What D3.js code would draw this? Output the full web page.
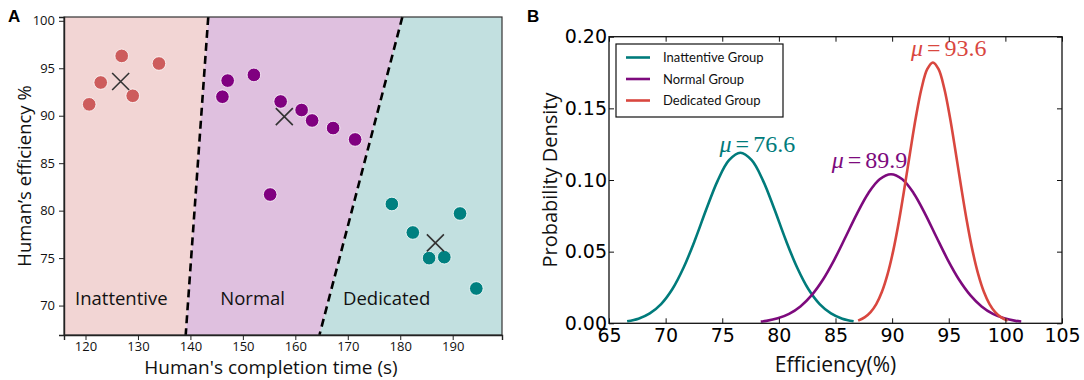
<!DOCTYPE html>
<html>
<head>
<meta charset="utf-8">
<script src="https://cdn.jsdelivr.net/npm/d3@7"></script>
<style>
  body { margin: 0; background: #fff; }
  svg { display: block; }
</style>
</head>
<body>
<svg width="1084" height="380"></svg>
<script>
// ---- panel A data: completion time (s) vs efficiency (%)
const inattentiveTime = [120.7, 122.9, 126.9, 129.0, 134.0]
const inattentiveEff = [91.2, 93.5, 96.3, 92.1, 95.5]
const normalTime = [146.1, 147.1, 152.1, 155.2, 157.2, 161.2, 163.2, 167.2, 171.4]
const normalEff = [92.0, 93.7, 94.3, 81.7, 91.5, 90.6, 89.5, 88.7, 87.5]
const dedicatedTime = [178.4, 182.4, 185.5, 188.4, 191.4, 194.5]
const dedicatedEff = [80.7, 77.7, 75.0, 75.1, 79.7, 71.8]
// cluster centres (the X marks)
const centerTime = [126.7, 157.9, 186.7]
const centerEff = [93.6, 89.9, 76.6]
// dashed boundaries, two points each [time, eff]
const boundary1 = [[143.4, 100.4], [139.1, 66.9]]
const boundary2 = [[180.4, 100.4], [164.6, 66.9]]
const regionNames = ['Inattentive', 'Normal', 'Dedicated']
const xTicksA = [120, 130, 140, 150, 160, 170, 180, 190]
const yTicksA = [70, 75, 80, 85, 90, 95, 100]

// ---- panel B data: probability density curves
const inattentiveX = [66.6, 67.6, 68.6, 69.6, 70.6, 71.6, 72.6, 73.6, 74.6, 75.6, 76.6, 77.6, 78.6, 79.6, 80.6, 81.6, 82.6, 83.6, 84.6, 85.6, 86.6]
const inattentiveY = [0.0014, 0.0032, 0.0069, 0.0134, 0.0239, 0.0391, 0.0583, 0.0797, 0.0996, 0.1138, 0.119, 0.1138, 0.0996, 0.0797, 0.0583, 0.0391, 0.0239, 0.0134, 0.0069, 0.0032, 0.0014]
const normalX = [78.4, 78.9, 79.9, 80.9, 81.9, 82.9, 83.9, 84.9, 85.9, 86.9, 87.9, 88.9, 89.9, 90.9, 91.9, 92.9, 93.9, 94.9, 95.9, 96.9, 97.9, 98.9, 99.9, 100.9, 101.4]
const normalY = [0.0012, 0.0017, 0.0035, 0.0066, 0.0118, 0.0197, 0.0306, 0.0445, 0.0604, 0.0766, 0.0908, 0.1005, 0.104, 0.1005, 0.0908, 0.0766, 0.0604, 0.0445, 0.0306, 0.0197, 0.0118, 0.0066, 0.0035, 0.0017, 0.0012]
const dedicatedX = [87.0, 87.6, 88.1, 88.6, 89.1, 89.6, 90.1, 90.6, 91.1, 91.6, 92.1, 92.6, 93.1, 93.6, 94.1, 94.6, 95.1, 95.6, 96.1, 96.6, 97.1, 97.6, 98.1, 98.6, 99.1, 99.6, 100.2]
const dedicatedY = [0.0019, 0.0043, 0.0078, 0.0134, 0.0220, 0.0343, 0.0507, 0.0712, 0.0949, 0.1199, 0.1439, 0.1640, 0.1773, 0.182, 0.1773, 0.1640, 0.1439, 0.1199, 0.0949, 0.0712, 0.0507, 0.0343, 0.0220, 0.0134, 0.0078, 0.0043, 0.0019]
const groupNames = ['Inattentive Group', 'Normal Group', 'Dedicated Group']
const groupMeans = [76.6, 89.9, 93.6]
const groupPeaks = [0.119, 0.104, 0.182]
const xTicksB = [65, 70, 75, 80, 85, 90, 95, 100, 105]
const yTicksB = [0, 0.05, 0.10, 0.15, 0.20]

const svg = d3.select('svg')

// kleuren
const pointColors = ['#cd5c5c', '#800080', '#008080']
const regionColors = ['#f2d5d4', '#dfc0df', '#c2e0e0']
const curveColors = ['#007b7b', '#7d0a7d', '#d9473f']

// ================= panel A =================
const a = {left: 64, right: 502, top: 17, bottom: 335}
const xA = d3.scaleLinear().domain([115.9, 199.4]).range([a.left, a.right])
const yA = d3.scaleLinear().domain([66.9, 100.4]).range([a.bottom, a.top])

const gA = svg.append('g')

// x-waarde van een grenslijn bij een bepaalde y
const lineX = (b, eff) => b[0][0] + (eff - b[0][1]) * (b[1][0] - b[0][0]) / (b[1][1] - b[0][1])
const yTop = yA.domain()[1], yBot = yA.domain()[0]
const xMin = xA.domain()[0], xMax = xA.domain()[1]

const regions = [
  [[xMin, yTop], [lineX(boundary1, yTop), yTop], [lineX(boundary1, yBot), yBot], [xMin, yBot]],
  [[lineX(boundary1, yTop), yTop], [lineX(boundary2, yTop), yTop], [lineX(boundary2, yBot), yBot], [lineX(boundary1, yBot), yBot]],
  [[lineX(boundary2, yTop), yTop], [xMax, yTop], [xMax, yBot], [lineX(boundary2, yBot), yBot]]
]
gA.selectAll('polygon.region').data(regions).enter().append('polygon')
  .attr('class', 'region')
  .attr('points', d => d.map(p => [xA(p[0]), yA(p[1])].join(',')).join(' '))
  .attr('fill', (d, i) => regionColors[i])

const lineA = d3.line().x(d => xA(d[0])).y(d => yA(d[1]))
gA.selectAll('path.boundary').data([boundary1, boundary2]).enter().append('path')
  .attr('class', 'boundary')
  .attr('d', lineA)
  .attr('stroke', '#000')
  .attr('stroke-width', 2.6)
  .attr('stroke-dasharray', '8,5')
  .attr('fill', 'none')

// punten
const groupsA = [
  d3.zip(inattentiveTime, inattentiveEff),
  d3.zip(normalTime, normalEff),
  d3.zip(dedicatedTime, dedicatedEff)
]
groupsA.forEach((pts, i) => {
  gA.selectAll('circle.g' + i).data(pts).enter().append('circle')
    .attr('class', 'g' + i)
    .attr('cx', d => xA(d[0]))
    .attr('cy', d => yA(d[1]))
    .attr('r', 6.8)
    .attr('fill', pointColors[i])
    .attr('stroke', '#fff')
    .attr('stroke-width', 0.8)
})

// kruisjes voor de centra
const cross = 8.5
d3.zip(centerTime, centerEff).forEach(c => {
  const cx = xA(c[0]), cy = yA(c[1])
  gA.append('path')
    .attr('d', `M${cx - cross},${cy - cross}L${cx + cross},${cy + cross}M${cx - cross},${cy + cross}L${cx + cross},${cy - cross}`)
    .attr('stroke', '#333')
    .attr('stroke-width', 1.6)
})

// namen van de gebieden
const regionLabelX = [118.0, 145.7, 169.1]
gA.selectAll('text.region').data(regionNames).enter().append('text')
  .attr('x', (d, i) => xA(regionLabelX[i]))
  .attr('y', yA(70) - 1)
  .attr('font-family', 'Open Sans, sans-serif')
  .attr('font-size', 18.5)
  .attr('fill', '#111')
  .text(d => d)

gA.append('rect')
  .attr('x', a.left).attr('y', a.top)
  .attr('width', a.right - a.left).attr('height', a.bottom - a.top)
  .attr('fill', 'none').attr('stroke', '#333').attr('stroke-width', 1.2)

const axA_x = gA.append('g').attr('transform', `translate(0,${a.bottom})`)
  .call(d3.axisBottom(xA).tickValues(xTicksA).tickSize(5).tickPadding(2))
const axA_y = gA.append('g').attr('transform', `translate(${a.left},0)`)
  .call(d3.axisLeft(yA).tickValues(yTicksA).tickSize(5).tickPadding(4))
;[axA_x, axA_y].forEach(ax => {
  ax.select('.domain').attr('stroke', '#222').attr('stroke-width', 1.4)
  ax.selectAll('.tick line').attr('stroke', '#222')
  ax.selectAll('.tick text').attr('font-family', 'Open Sans, sans-serif').attr('font-size', 13).attr('fill', '#111')
})

gA.append('text')
  .attr('x', 271).attr('y', 374)
  .attr('text-anchor', 'middle')
  .attr('font-family', 'Open Sans, sans-serif').attr('font-size', 19).attr('fill', '#111')
  .text("Human's completion time (s)")
gA.append('text')
  .attr('transform', `translate(31,${(a.top + a.bottom) / 2}) rotate(-90)`)
  .attr('text-anchor', 'middle')
  .attr('font-family', 'Open Sans, sans-serif').attr('font-size', 18.5).attr('fill', '#111')
  .text("Human’s efficiency %")

// ================= panel B =================
const b = {left: 609, right: 1062, top: 36.7, bottom: 323.3}
const xB = d3.scaleLinear().domain([65, 105]).range([b.left, b.right])
const yB = d3.scaleLinear().domain([0, 0.2]).range([b.bottom, b.top])
const gB = svg.append('g')

const curves = [
  d3.zip(inattentiveX, inattentiveY),
  d3.zip(normalX, normalY),
  d3.zip(dedicatedX, dedicatedY)
]
const lineB = d3.line().x(d => xB(d[0])).y(d => yB(d[1])).curve(d3.curveCatmullRom)
gB.selectAll('path.curve').data(curves).enter().append('path')
  .attr('class', 'curve')
  .attr('d', lineB)
  .attr('fill', 'none')
  .attr('stroke', (d, i) => curveColors[i])
  .attr('stroke-width', 2.6)

// mu labels
const labelShift = [[1.5, 1], [-1.9, 6], [1.4, 6]]
groupMeans.forEach((m, i) => {
  const t = gB.append('text')
    .attr('x', xB(m + labelShift[i][0]))
    .attr('y', yB(groupPeaks[i]) - labelShift[i][1])
    .attr('text-anchor', 'middle')
    .attr('font-family', 'Liberation Serif, DejaVu Serif, serif')
    .attr('font-size', 24)
    .attr('fill', curveColors[i])
  t.append('tspan').attr('font-style', 'italic').text('μ')
  t.append('tspan').attr('dx', 4).text('=')
  t.append('tspan').attr('dx', 4).text(m.toFixed(1))
})

// frame + inward ticks
gB.append('rect')
  .attr('x', b.left).attr('y', b.top)
  .attr('width', b.right - b.left).attr('height', b.bottom - b.top)
  .attr('fill', 'none').attr('stroke', '#111').attr('stroke-width', 1.3)

const axB = [
  gB.append('g').attr('transform', `translate(0,${b.bottom})`)
    .call(d3.axisBottom(xB).tickValues(xTicksB).tickSize(-5).tickPadding(5).tickFormat(d3.format('d'))),
  gB.append('g').attr('transform', `translate(${b.left},0)`)
    .call(d3.axisLeft(yB).tickValues(yTicksB).tickSize(-5).tickPadding(2).tickFormat(d3.format('.2f'))),
  gB.append('g').attr('transform', `translate(0,${b.top})`)
    .call(d3.axisTop(xB).tickValues(xTicksB).tickSize(-5).tickFormat('')),
  gB.append('g').attr('transform', `translate(${b.right},0)`)
    .call(d3.axisRight(yB).tickValues(yTicksB).tickSize(-5).tickFormat(''))
]
axB.forEach(ax => {
  ax.select('.domain').remove()
  ax.selectAll('.tick line').attr('stroke', '#111')
  ax.selectAll('.tick text').attr('font-family', 'DejaVu Sans, sans-serif').attr('font-size', 19).attr('fill', '#000')
})

gB.append('text')
  .attr('x', (b.left + b.right) / 2).attr('y', 372)
  .attr('text-anchor', 'middle')
  .attr('font-family', 'Open Sans, sans-serif').attr('font-size', 21).attr('fill', '#111')
  .text('Efficiency(%)')
gB.append('text')
  .attr('transform', `translate(557,${(b.top + b.bottom) / 2}) rotate(-90)`)
  .attr('text-anchor', 'middle')
  .attr('font-family', 'Open Sans, sans-serif').attr('font-size', 20).attr('fill', '#111')
  .text('Probability Density')

// legenda
const leg = gB.append('g').attr('transform', 'translate(616,44)')
leg.append('rect').attr('width', 167).attr('height', 73)
  .attr('fill', '#fff').attr('stroke', '#111').attr('stroke-width', 1.2)
groupNames.forEach((name, i) => {
  const yy = 13.5 + i * 21.5
  leg.append('line').attr('x1', 10).attr('x2', 34).attr('y1', yy).attr('y2', yy)
    .attr('stroke', curveColors[i]).attr('stroke-width', 2.6)
  leg.append('text').attr('x', 47).attr('y', yy + 4.5)
    .attr('font-family', 'Lato, sans-serif').attr('font-size', 13).attr('fill', '#111')
    .text(name)
})

// paneel letters
svg.append('text').attr('x', 8).attr('y', 22)
  .attr('font-family', 'Liberation Sans, Arial, sans-serif').attr('font-weight', 'bold').attr('font-size', 17)
  .text('A')
svg.append('text').attr('x', 527).attr('y', 22)
  .attr('font-family', 'Liberation Sans, Arial, sans-serif').attr('font-weight', 'bold').attr('font-size', 17)
  .text('B')
</script>
</body>
</html>
